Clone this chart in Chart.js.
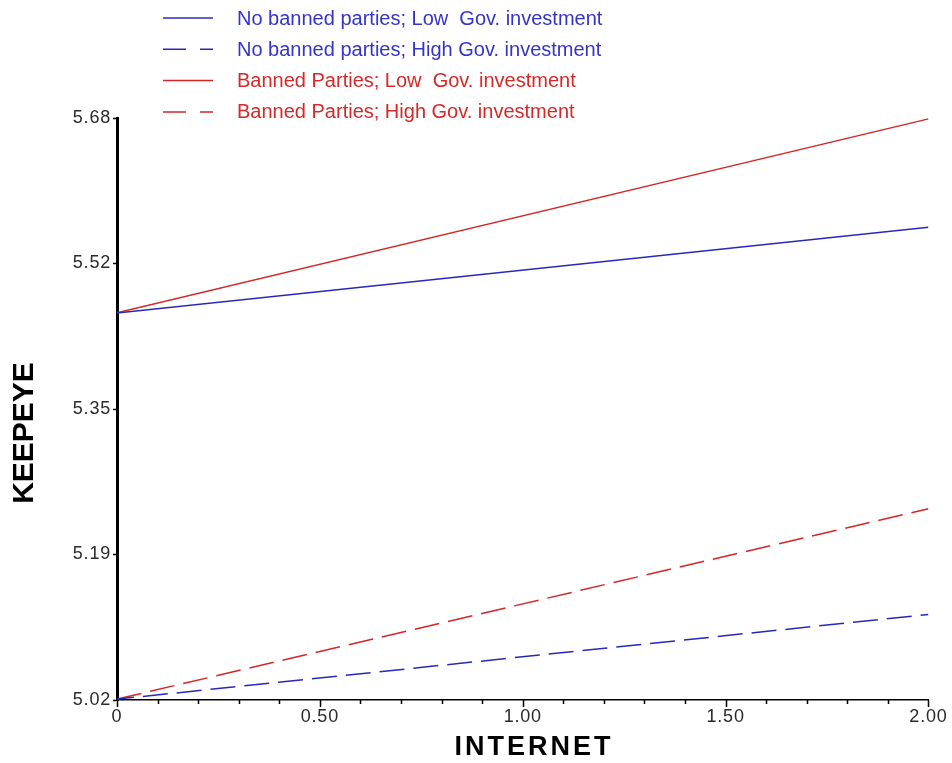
<!DOCTYPE html>
<html>
<head>
<meta charset="utf-8">
<script src="https://cdn.jsdelivr.net/npm/chart.js@4.4.1/dist/chart.umd.min.js"></script>
<style>
  html, body { margin: 0; padding: 0; background: #ffffff; }
  #wrap { width: 952px; height: 763px; position: relative; }
</style>
</head>
<body>
<div id="wrap"><canvas id="c" width="952" height="763"></canvas></div>
<script>
// Predicted KEEPEYE across INTERNET, by party ban and government investment
const internet = [0, 2];
const noBanLow  = [5.459, 5.556];
const noBanHigh = [5.021, 5.117];
const banLow    = [5.459, 5.679];
const banHigh   = [5.021, 5.237];

const seriesLabels = [
  'No banned parties; Low  Gov. investment',
  'No banned parties; High Gov. investment',
  'Banned Parties; Low  Gov. investment',
  'Banned Parties; High Gov. investment'
];

const yTickValues = [5.02, 5.185, 5.35, 5.515, 5.68];
const yTickLabels = ['5.02', '5.19', '5.35', '5.52', '5.68'];
const xTickLabels = ['0', '0.50', '1.00', '1.50', '2.00'];

const BLUE = 'rgb(40,40,190)';
const RED = 'rgb(212,38,38)';
const BLUE_TEXT = 'rgb(52,52,205)';
const RED_TEXT = 'rgb(215,40,40)';
const FONT = '"Liberation Sans", Arial, sans-serif';

function pts(ys) { return internet.map((x, i) => ({ x: x, y: ys[i] })); }

const datasets = [
  { label: seriesLabels[0], data: pts(noBanLow),  borderColor: BLUE, textColor: BLUE_TEXT, borderDash: [] },
  { label: seriesLabels[1], data: pts(noBanHigh), borderColor: BLUE, textColor: BLUE_TEXT, borderDash: [25, 9], borderDashOffset: 8, legendDash: [23, 14] },
  { label: seriesLabels[2], data: pts(banLow),    borderColor: RED,  textColor: RED_TEXT,  borderDash: [] },
  { label: seriesLabels[3], data: pts(banHigh),   borderColor: RED,  textColor: RED_TEXT,  borderDash: [25, 9], legendDash: [23, 14] }
].map(d => Object.assign(d, { borderWidth: 1.5, pointRadius: 0, fill: false, tension: 0 }));

// Slightly spaced-out digits for the tick labels
const tickSpacing = {
  id: 'tickSpacing',
  beforeDraw(chart) { chart.ctx.letterSpacing = '0.8px'; },
  afterDraw(chart) { chart.ctx.letterSpacing = '0px'; }
};

// Legend, axis titles and x tick marks drawn onto the canvas
const decorations = {
  id: 'decorations',
  afterDraw(chart) {
    const ctx = chart.ctx;
    const xs = chart.scales.x, ys = chart.scales.y;
    ctx.save();
    ctx.letterSpacing = '0px';

    // x tick marks: long at every 0.5, short at every 0.1
    ctx.strokeStyle = '#000';
    ctx.lineWidth = 1.5;
    xs.ticks.forEach(t => {
      const px = Math.round(xs.getPixelForValue(t.value)) + 0.5;
      const major = Math.round(t.value * 10) % 5 === 0;
      ctx.beginPath();
      ctx.moveTo(px, ys.bottom);
      ctx.lineTo(px, ys.bottom + (major ? 7 : 4));
      ctx.stroke();
    });

    // legend
    chart.data.datasets.forEach((d, i) => {
      const y = 18 + i * 31.3;
      ctx.strokeStyle = d.borderColor;
      ctx.lineWidth = 1.5;
      ctx.setLineDash(d.legendDash || []);
      ctx.beginPath();
      ctx.moveTo(163, y);
      ctx.lineTo(213, y);
      ctx.stroke();
      ctx.setLineDash([]);
      ctx.fillStyle = d.textColor;
      ctx.font = '20px ' + FONT;
      ctx.textBaseline = 'middle';
      ctx.textAlign = 'left';
      ctx.fillText(d.label, 237, y + 1);
    });

    // axis titles
    ctx.fillStyle = '#000';
    ctx.textAlign = 'center';
    ctx.textBaseline = 'middle';
    ctx.font = 'bold 27px ' + FONT;
    ctx.letterSpacing = '3px';
    ctx.fillText('INTERNET', 534, 748);
    ctx.letterSpacing = '0px';
    ctx.font = 'bold 30px ' + FONT;
    ctx.translate(25, 433);
    ctx.rotate(-Math.PI / 2);
    ctx.fillText('KEEPEYE', 0, 0);
    ctx.restore();
  }
};

new Chart(document.getElementById('c'), {
  type: 'line',
  data: { datasets: datasets },
  plugins: [tickSpacing, decorations],
  options: {
    responsive: false,
    animation: false,
    layout: { padding: { top: 118, right: 22, left: 0, bottom: 0 } },
    plugins: { legend: { display: false }, tooltip: { enabled: false } },
    scales: {
      x: {
        type: 'linear',
        min: 0, max: 2,
        afterFit(s) { s.height = 63; },
        afterBuildTicks(s) {
          const t = [];
          for (let k = 0; k <= 20; k++) t.push({ value: k / 10 });
          s.ticks = t;
        },
        grid: { drawOnChartArea: false, drawTicks: false },
        border: { display: true, color: '#000', width: 1.5 },
        ticks: {
          autoSkip: false, maxRotation: 0, padding: 6,
          color: '#2a2a2a',
          font: { family: FONT, size: 18 },
          callback(v) {
            const k = Math.round(v * 10);
            return k % 5 === 0 ? xTickLabels[k / 5] : '';
          }
        }
      },
      y: {
        type: 'linear',
        min: 5.02, max: 5.68,
        afterFit(s) { s.width = 117; },
        afterBuildTicks(s) { s.ticks = yTickValues.map(v => ({ value: v })); },
        grid: { drawOnChartArea: false, drawTicks: true, tickLength: 4, color: '#000', tickWidth: 1.5 },
        border: { display: true, color: '#000', width: 3 },
        ticks: {
          padding: 2,
          color: '#2a2a2a',
          font: { family: FONT, size: 18 },
          callback(v) {
            const i = yTickValues.findIndex(t => Math.abs(t - v) < 1e-6);
            return i >= 0 ? yTickLabels[i] : '';
          }
        }
      }
    }
  }
});
</script>
</body>
</html>
